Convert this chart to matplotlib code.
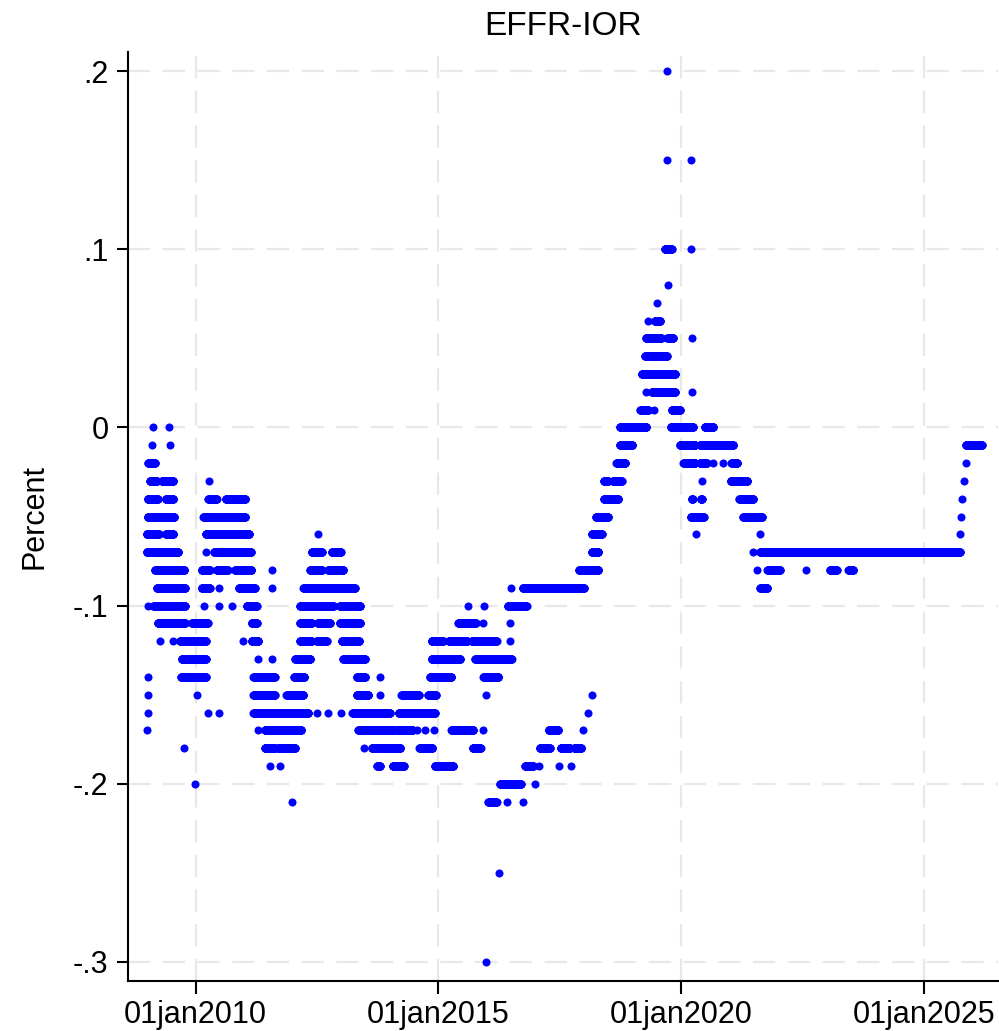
import matplotlib
matplotlib.use("Agg")
import matplotlib.pyplot as plt
import numpy as np

# EFFR minus IOR, runs of equal daily values
# each entry: (start year, end year, value in percent)
seg_2009 = [
    (2009.13, 2009.13, 0.00), (2009.46, 2009.46, 0.00),
    (2009.09, 2009.09, -0.01), (2009.47, 2009.47, -0.01),
    (2009.02, 2009.16, -0.02),
    (2009.06, 2009.20, -0.03), (2009.30, 2009.54, -0.03), (2010.27, 2010.27, -0.03),
    (2009.01, 2009.22, -0.04), (2009.38, 2009.54, -0.04), (2010.26, 2010.43, -0.04), (2010.62, 2011.02, -0.04),
    (2009.01, 2009.56, -0.05), (2010.16, 2010.47, -0.05), (2010.52, 2011.02, -0.05),
    (2008.99, 2009.24, -0.06), (2009.38, 2009.54, -0.06), (2010.21, 2011.10, -0.06), (2012.53, 2012.53, -0.06),
    (2008.99, 2009.64, -0.07), (2010.21, 2010.21, -0.07), (2010.38, 2011.14, -0.07),
    (2012.39, 2012.60, -0.07), (2012.80, 2012.99, -0.07),
    (2009.16, 2009.77, -0.08), (2010.12, 2010.29, -0.08), (2010.43, 2010.66, -0.08), (2010.81, 2011.15, -0.08),
    (2011.58, 2011.58, -0.08), (2012.36, 2012.60, -0.08), (2012.73, 2013.04, -0.08),
    (2009.20, 2009.78, -0.09), (2010.12, 2010.29, -0.09), (2010.47, 2010.47, -0.09), (2010.89, 2011.22, -0.09),
    (2011.58, 2011.58, -0.09), (2012.22, 2013.28, -0.09),
    (2009.02, 2009.02, -0.10), (2009.13, 2009.78, -0.10), (2010.18, 2010.18, -0.10), (2010.49, 2010.49, -0.10),
    (2010.74, 2010.74, -0.10), (2011.05, 2011.26, -0.10), (2012.15, 2012.84, -0.10), (2012.97, 2013.39, -0.10),
    (2009.22, 2009.78, -0.11), (2009.92, 2010.25, -0.11), (2011.15, 2011.26, -0.11),
    (2012.15, 2012.39, -0.11), (2012.51, 2012.77, -0.11), (2012.97, 2013.39, -0.11),
    (2009.26, 2009.26, -0.12), (2009.53, 2009.53, -0.12), (2009.68, 2010.21, -0.12), (2010.98, 2010.98, -0.12),
    (2011.15, 2011.29, -0.12), (2012.15, 2012.39, -0.12), (2012.49, 2012.70, -0.12), (2013.01, 2013.37, -0.12),
    (2009.71, 2010.21, -0.13), (2011.28, 2011.28, -0.13), (2011.58, 2011.58, -0.13),
    (2012.05, 2012.36, -0.13), (2013.04, 2013.49, -0.13),
    (2009.01, 2009.01, -0.14), (2009.70, 2010.21, -0.14), (2011.19, 2011.63, -0.14),
    (2012.03, 2012.24, -0.14), (2013.32, 2013.49, -0.14), (2013.79, 2013.79, -0.14),
    (2009.02, 2009.02, -0.15), (2010.02, 2010.02, -0.15), (2011.19, 2011.63, -0.15),
    (2011.87, 2012.22, -0.15), (2013.32, 2013.56, -0.15), (2013.79, 2013.79, -0.15),
    (2009.02, 2009.02, -0.16), (2010.25, 2010.25, -0.16), (2010.49, 2010.49, -0.16), (2011.19, 2012.32, -0.16),
    (2012.50, 2012.50, -0.16), (2012.73, 2012.73, -0.16), (2012.99, 2012.99, -0.16),
    (2009.00, 2009.00, -0.17), (2011.28, 2011.28, -0.17), (2011.43, 2012.18, -0.17),
    (2009.75, 2009.75, -0.18), (2011.43, 2011.63, -0.18), (2011.70, 2012.05, -0.18),
    (2011.53, 2011.53, -0.19), (2011.74, 2011.74, -0.19),
    (2009.99, 2009.99, -0.20),
    (2011.99, 2011.99, -0.21),
]

seg_2013 = [
    (2013.23, 2014.00, -0.16), (2014.18, 2014.93, -0.16),
    (2013.35, 2014.07, -0.17), (2014.13, 2014.47, -0.17), (2014.57, 2014.57, -0.17), (2014.73, 2014.73, -0.17),
    (2014.91, 2014.91, -0.17), (2015.27, 2015.72, -0.17), (2015.91, 2015.91, -0.17),
    (2013.47, 2013.47, -0.18), (2013.63, 2014.22, -0.18), (2014.61, 2014.88, -0.18), (2015.71, 2015.87, -0.18),
    (2013.74, 2013.80, -0.19), (2014.06, 2014.29, -0.19), (2014.93, 2015.31, -0.19),
    (2014.24, 2014.60, -0.15), (2014.79, 2014.95, -0.15), (2015.99, 2015.99, -0.15),
    (2014.83, 2015.27, -0.14), (2015.93, 2016.24, -0.14),
    (2014.86, 2015.45, -0.13), (2015.76, 2016.51, -0.13),
    (2014.86, 2015.10, -0.12), (2015.21, 2015.60, -0.12), (2015.69, 2016.20, -0.12), (2016.47, 2016.47, -0.12),
    (2015.41, 2015.77, -0.11), (2015.93, 2015.93, -0.11), (2016.47, 2016.47, -0.11),
    (2015.62, 2015.62, -0.10), (2015.94, 2015.94, -0.10), (2016.43, 2016.82, -0.10),
    (2016.49, 2016.49, -0.09),
    (2016.03, 2016.20, -0.21), (2016.41, 2016.41, -0.21), (2016.74, 2016.74, -0.21),
    (2016.27, 2016.70, -0.20), (2016.99, 2016.99, -0.20),
    (2016.24, 2016.24, -0.25),
    (2015.98, 2015.98, -0.30),
]

seg_2016 = [
    (2016.74, 2018.00, -0.09),
    (2017.90, 2018.30, -0.08),
    (2018.16, 2018.30, -0.07),
    (2018.16, 2018.37, -0.06),
    (2018.25, 2018.50, -0.05),
    (2018.41, 2018.71, -0.04),
    (2018.41, 2018.50, -0.03), (2018.59, 2018.78, -0.03),
    (2018.67, 2018.85, -0.02),
    (2018.74, 2019.00, -0.01),
    (2018.74, 2019.29, 0.00),
    (2019.16, 2019.33, 0.01), (2019.44, 2019.44, 0.01),
    (2019.28, 2019.28, 0.02), (2019.40, 2019.88, 0.02),
    (2019.19, 2019.88, 0.03),
    (2019.26, 2019.71, 0.04),
    (2019.28, 2019.60, 0.05), (2019.72, 2019.84, 0.05),
    (2019.33, 2019.33, 0.06), (2019.46, 2019.57, 0.06),
    (2019.50, 2019.50, 0.07),
    (2019.74, 2019.74, 0.08),
    (2019.67, 2019.81, 0.10),
    (2019.71, 2019.71, 0.15),
    (2019.71, 2019.71, 0.20),
    (2016.79, 2016.96, -0.19), (2017.08, 2017.08, -0.19), (2017.49, 2017.49, -0.19), (2017.73, 2017.73, -0.19),
    (2017.09, 2017.30, -0.18), (2017.52, 2017.71, -0.18), (2017.80, 2017.95, -0.18),
    (2017.27, 2017.47, -0.17), (2017.99, 2017.99, -0.17),
    (2018.08, 2018.08, -0.16),
    (2018.16, 2018.16, -0.15),
]

seg_2020 = [
    (2019.79, 2020.25, 0.00), (2020.49, 2020.67, 0.00),
    (2019.81, 2019.98, 0.01),
    (2020.22, 2020.22, 0.02),
    (2020.22, 2020.22, 0.05),
    (2020.21, 2020.21, 0.10),
    (2020.21, 2020.21, 0.15),
    (2019.98, 2020.29, -0.01), (2020.39, 2021.08, -0.01),
    (2020.05, 2020.29, -0.02), (2020.39, 2020.53, -0.02), (2020.65, 2020.65, -0.02),
    (2020.87, 2020.87, -0.02), (2021.04, 2021.16, -0.02),
    (2020.43, 2020.43, -0.03), (2021.02, 2021.37, -0.03),
    (2020.22, 2020.24, -0.04), (2020.41, 2020.43, -0.04), (2021.20, 2021.49, -0.04),
    (2020.20, 2020.47, -0.05), (2021.28, 2021.67, -0.05),
    (2020.31, 2020.31, -0.06), (2021.63, 2021.63, -0.06),
    (2021.49, 2021.49, -0.07), (2021.63, 2025.75, -0.07),
    (2021.57, 2021.57, -0.08), (2021.78, 2022.04, -0.08), (2022.58, 2022.58, -0.08),
    (2023.07, 2023.21, -0.08), (2023.45, 2023.55, -0.08),
    (2021.63, 2021.78, -0.09),
    (2025.74, 2025.74, -0.06), (2025.77, 2025.77, -0.05), (2025.80, 2025.80, -0.04),
    (2025.83, 2025.83, -0.03), (2025.87, 2025.87, -0.02),
    (2025.87, 2026.20, -0.01),
]

y_ticks = [-0.3, -0.2, -0.1, 0.0, 0.1, 0.2]
y_labels = ["-.3", "-.2", "-.1", "0", ".1", ".2"]
x_ticks = [2010, 2015, 2020, 2025]
x_labels = ["01jan2010", "01jan2015", "01jan2020", "01jan2025"]

plt.rcParams["font.family"] = ["Liberation Sans", "DejaVu Sans"]
plt.rcParams["lines.scale_dashes"] = False

# expand each run into one point per day
xs, ys = [], []
for seg in (seg_2009, seg_2013, seg_2016, seg_2020):
    for start, end, val in seg:
        days = np.arange(start, end + 1e-6, 1 / 365.25)
        xs.extend(days)
        ys.extend([val] * len(days))

fig = plt.figure(figsize=(9.99, 10.31), dpi=100)
ax = fig.add_axes([128 / 999, 50.3 / 1031, 870 / 999, 928.7 / 1031])

ax.plot(xs, ys, "o", color="#0000ff", markersize=5.8, markeredgewidth=0, linestyle="none")

ax.set_xlim(2008.605, 2026.532)
ax.set_ylim(-0.3105, 0.2107)
ax.set_xticks(x_ticks)
ax.set_xticklabels(x_labels)
ax.set_yticks(y_ticks)
ax.set_yticklabels(y_labels)

ax.grid(True, color="#e8e8e8", linewidth=1.6, linestyle=(0, (16, 9)))
ax.set_axisbelow(True)

for side in ("top", "right"):
    ax.spines[side].set_visible(False)
for side in ("left", "bottom"):
    ax.spines[side].set_linewidth(1.5)
    ax.spines[side].set_color("black")

ax.tick_params(axis="x", length=9, width=1.5, pad=5, labelsize=22)
ax.tick_params(axis="y", length=8, width=1.5, pad=6, labelsize=22)

ax.set_title("EFFR-IOR", fontsize=24, pad=12)
ax.set_ylabel("Percent", fontsize=22)
ax.yaxis.set_label_coords(-0.0897, 0.5)

fig.savefig("out.png", dpi=100, facecolor="white")
